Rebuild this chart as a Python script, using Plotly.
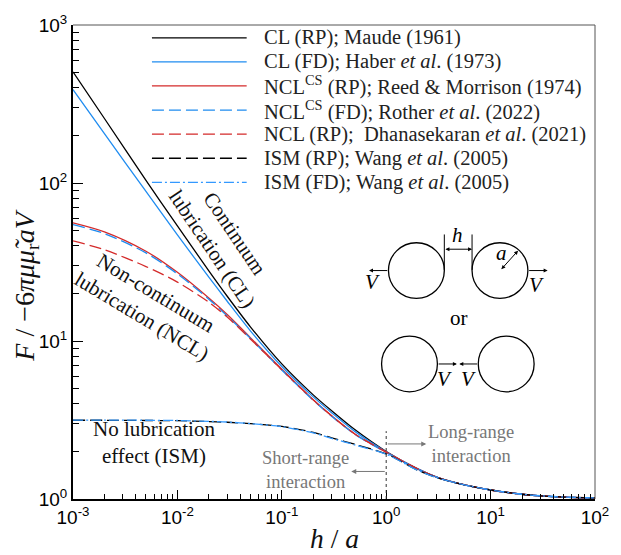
import plotly.graph_objects as go

# ---------------- data ----------------
h = [1e-3, 2e-3, 5e-3, 1e-2, 2e-2, 3e-2, 5e-2, 0.1, 0.2, 0.3, 0.5, 1, 2, 3, 5, 10, 20, 30, 50, 100]

cl_rp = [505, 256, 104, 53.5, 27.8, 19.2, 12.3, 7.16, 4.56, 3.62, 2.75, 2.0, 1.55, 1.38, 1.25, 1.14, 1.072, 1.048, 1.029, 1.015]
cl_fd = [390, 205, 88.4, 47.0, 25.4, 17.85, 11.6, 6.9, 4.43, 3.52, 2.68, 1.99, 1.55, 1.38, 1.25, 1.14, 1.072, 1.048, 1.029, 1.015]
ncl_cs_rp = [56, 49.1, 37.0, 27.2, 18.7, 14.7, 10.5, 6.63, 4.25, 3.36, 2.58, 1.98, 1.55, 1.38, 1.25, 1.14, 1.072, 1.048, 1.029, 1.015]
ncl_cs_fd = [54.5, 47.8, 36.1, 26.6, 18.4, 14.4, 10.4, 6.55, 4.22, 3.34, 2.57, 1.97, 1.55, 1.38, 1.25, 1.14, 1.072, 1.048, 1.029, 1.015]
ncl_rp = [43, 37.8, 29.6, 23.6, 17.6, 14.2, 10.3, 6.58, 4.24, 3.36, 2.58, 1.98, 1.55, 1.38, 1.25, 1.14, 1.072, 1.048, 1.029, 1.015]
ism_rp = [3.15, 3.15, 3.14, 3.13, 3.09, 3.06, 3.0, 2.88, 2.64, 2.44, 2.22, 1.93, 1.52, 1.37, 1.25, 1.14, 1.072, 1.048, 1.029, 1.015]
ism_fd = [3.16, 3.16, 3.15, 3.14, 3.10, 3.07, 3.0, 2.87, 2.62, 2.42, 2.20, 1.92, 1.52, 1.37, 1.25, 1.14, 1.072, 1.048, 1.029, 1.015]

names = [
    "CL (RP); Maude (1961)",
    "CL (FD); Haber <i>et al</i>. (1973)",
    "NCL<sup>CS</sup> (RP); Reed &amp; Morrison (1974)",
    "NCL<sup>CS</sup> (FD); Rother <i>et al</i>. (2022)",
    "NCL (RP);\u00a0 Dhanasekaran <i>et al</i>. (2021)",
    "ISM (RP); Wang <i>et al</i>. (2005)",
    "ISM (FD); Wang <i>et al</i>. (2005)",
]
series = [cl_rp, cl_fd, ncl_cs_rp, ncl_cs_fd, ncl_rp, ism_rp, ism_fd]

x_ticks = [1e-3, 1e-2, 1e-1, 1, 10, 100]
x_ticktext = ["10<sup>-3</sup>", "10<sup>-2</sup>", "10<sup>-1</sup>", "10<sup>0</sup>", "10<sup>1</sup>", "10<sup>2</sup>"]
y_ticks = [1, 10, 100, 1000]
y_ticktext = ["10<sup>0</sup>", "10<sup>1</sup>", "10<sup>2</sup>", "10<sup>3</sup>"]

# ---------------- styles ----------------
BLUE = "#1f8cf0"
RED = "#d42a2a"
styles = [
    dict(color="black", dash="solid"),
    dict(color=BLUE, dash="solid"),
    dict(color=RED, dash="solid"),
    dict(color=BLUE, dash="12px,5px"),
    dict(color=RED, dash="12px,5px"),
    dict(color="black", dash="12px,5px"),
    dict(color="#3399ff", dash="10px,3px,2px,3px"),
]

W, H = 621, 555
PL, PR, PT, PB = 73, 602, 17, 499   # plot area in screen pixels
PW, PH = PR - PL, PB - PT

def X(px):
    return (px - PL) / PW

def Y(py):
    return (PB - py) / PH

SERIF = "Liberation Serif"
SANS = "Liberation Sans"

fig = go.Figure()
for name, ys, st in zip(names, series, styles):
    fig.add_trace(go.Scatter(
        x=h, y=ys, mode="lines", name=name, showlegend=False,
        line=dict(color=st["color"], dash=st["dash"], width=1.3, shape="spline", smoothing=0.8),
    ))

shapes = []
annotations = []

def note(px, py, text, size=21, color="#111", **kw):
    d = dict(xref="paper", yref="paper", x=X(px), y=Y(py), text=text, showarrow=False,
             xanchor="center", yanchor="middle",
             font=dict(family=SERIF, size=size, color=color))
    d.update(kw)
    annotations.append(d)

def arrow(hx, hy, tx, ty, color="black", both=False, size=0.8):
    d = dict(xref="paper", yref="paper", x=X(hx), y=Y(hy), ax=tx - hx, ay=ty - hy, text="",
             showarrow=True, arrowhead=2, arrowsize=size, arrowwidth=1, arrowcolor=color)
    if both:
        d["arrowside"] = "end+start"
    annotations.append(d)

# manual legend (long line samples as in the reference)
row_y = [30, 54.5, 79, 103.5, 128, 152.5, 177]
for name, st, py in zip(names, styles, row_y):
    shapes.append(dict(type="line", xref="paper", yref="paper",
                       x0=X(153), x1=X(249), y0=Y(py), y1=Y(py),
                       line=dict(color=st["color"], dash=st["dash"], width=1.3)))
    note(265, py, name, size=20.5, color="#222", xanchor="left")

# frame top / right
shapes.append(dict(type="line", xref="paper", yref="paper", x0=0, x1=1, y0=1, y1=1,
                   line=dict(color="#555", width=1)))
shapes.append(dict(type="line", xref="paper", yref="paper", x0=1, x1=1, y0=0, y1=1,
                   line=dict(color="#555", width=1)))

# vertical dotted line at h/a = 1
shapes.append(dict(type="line", xref="paper", yref="paper", x0=0.6, x1=0.6, y0=0, y1=Y(430),
                   line=dict(color="#333", width=1, dash="dot")))

# range arrows
GRAY = "#777"
arrow(431, 443, 391, 443, color=GRAY, size=1)
arrow(355, 471, 390, 471, color=GRAY, size=1)
note(476, 443, "Long-range<br>interaction", size=18.5, color=GRAY)
note(309, 470, "Short-range<br>interaction", size=18.5, color=GRAY)

# region labels
note(226, 237, "Continuum<br>lubrication (CL)", textangle=56)
note(150, 301, "Non-continuum<br>lubrication (NCL)", textangle=31)
note(155, 442, "No lubrication<br>effect (ISM)")

# schematic: spheres
r = 28.3
for cx, cy in [(421, 266.7), (505.7, 266.7), (414, 361.7), (512, 361.7)]:
    shapes.append(dict(type="circle", xref="paper", yref="paper",
                       x0=X(cx - r), x1=X(cx + r), y0=Y(cy + r), y1=Y(cy - r),
                       line=dict(color="black", width=1.3)))
# gap h markers
for gx in [449.3, 477.4]:
    shapes.append(dict(type="line", xref="paper", yref="paper", x0=X(gx), x1=X(gx),
                       y0=Y(266), y1=Y(230), line=dict(color="black", width=1)))
arrow(477.4, 245, 449.3, 245, both=True)
note(463, 231, "<i>h</i>", color="black")
# radius a
arrow(524, 246.5, 506, 266.5, both=True)
note(507, 249, "<i>a</i>", color="black")
# velocity arrows
arrow(373, 266.7, 392.7, 266.7)
arrow(554, 266.7, 534, 266.7)
arrow(462, 361.7, 442.3, 361.7)
arrow(464.5, 361.7, 483.7, 361.7)
for vx, vy in [(377, 278), (543, 281), (449, 377), (474, 377)]:
    note(vx, vy, "<i>V</i>", color="black")
note(464, 315, "or", color="black")

# axis titles
note(337.5, 539, "<i>h</i> / <i>a</i>", size=27.5)
note(25.5, 282, "<i>F</i> / \u22126<i>\u03c0\u03bc\u03bc\u0303</i><sub>r</sub><i>aV</i>", size=28, textangle=-90)

fig.update_layout(
    width=W, height=H,
    margin=dict(l=PL, r=W - PR, t=PT, b=H - PB, pad=0),
    plot_bgcolor="white", paper_bgcolor="white",
    showlegend=False,
    shapes=shapes, annotations=annotations,
    xaxis=dict(type="log", range=[-3, 2], tickvals=x_ticks, ticktext=x_ticktext,
               ticks="inside", ticklen=9, tickwidth=1, tickcolor="black", ticklabeloverflow="allow",
               minor=dict(ticks="inside", ticklen=5, tickwidth=1, tickcolor="black", dtick="D1", showgrid=False),
               showline=True, linewidth=2, linecolor="black", showgrid=False, zeroline=False,
               tickfont=dict(family=SANS, size=19, color="black")),
    yaxis=dict(type="log", range=[0, 3], tickvals=y_ticks, ticktext=y_ticktext,
               ticks="inside", ticklen=10, tickwidth=1, tickcolor="black", ticklabeloverflow="allow",
               minor=dict(ticks="inside", ticklen=6, tickwidth=1, tickcolor="black", dtick="D1", showgrid=False),
               showline=True, linewidth=2, linecolor="black", showgrid=False, zeroline=False,
               tickfont=dict(family=SANS, size=19, color="black")),
)

fig.write_html("out.html", config={"displayModeBar": False},
               post_script="document.body.style.margin='0';document.body.style.overflow='hidden';")
